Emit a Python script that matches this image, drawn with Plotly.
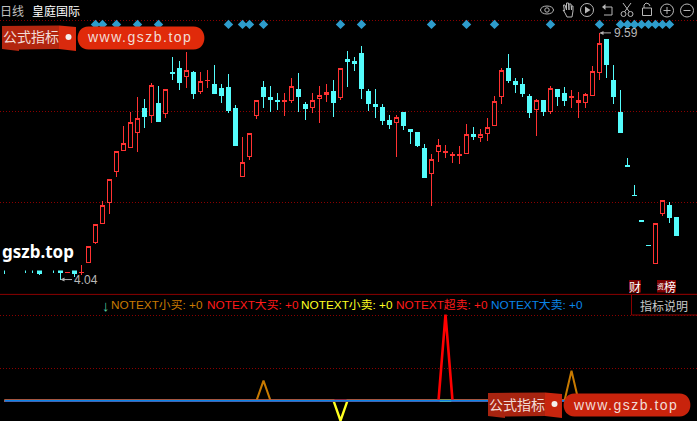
import plotly.graph_objects as go

W, H = 697, 421
index = list(range(97))
opens = [4.34,4.44,4.48,4.39,4.37,4.30,4.44,4.34,4.34,4.19,4.30,4.19,4.42,4.87,5.30,5.77,6.47,6.94,7.01,7.34,
         7.88,7.73,8.01,7.77,8.69,8.78,8.60,8.70,8.27,8.52,8.42,8.33,8.37,7.90,6.35,6.80,7.73,8.37,8.13,8.06,
         8.05,8.06,8.32,7.99,7.92,8.11,8.20,8.28,8.13,9.00,8.94,9.12,8.28,7.97,7.92,7.61,7.57,7.81,7.41,7.36,
         7.00,6.42,6.93,6.91,6.83,6.83,6.87,7.31,7.23,7.32,7.50,8.15,8.78,8.49,8.42,8.15,7.86,8.08,7.82,8.31,
         8.22,8.14,8.03,8.03,8.19,8.69,9.45,8.53,7.79,6.60,5.94,5.36,4.81,4.40,5.52,5.70,5.43]
highs = [4.37,4.48,4.53,4.44,4.41,4.34,4.48,4.39,4.39,4.21,4.34,4.37,4.79,5.28,5.80,6.30,6.93,7.50,7.81,8.14,
         8.10,8.46,8.40,8.33,9.05,8.96,9.16,8.73,8.71,8.76,8.87,8.44,8.67,7.97,7.25,7.34,8.08,8.51,8.40,8.24,
         8.23,8.58,8.69,8.04,8.24,8.40,8.44,8.53,8.80,9.18,9.05,9.30,8.33,8.33,7.99,7.74,7.74,7.81,7.43,7.36,
         7.09,6.87,7.20,7.07,6.91,7.05,7.54,7.47,7.43,7.68,8.17,8.80,9.12,8.58,8.58,8.22,8.10,8.08,8.40,8.33,
         8.37,8.31,8.26,8.24,8.85,9.59,9.45,8.87,8.31,6.78,6.17,5.36,4.81,5.31,5.82,5.79,5.43]
lows = [4.17,4.30,4.34,4.19,4.19,4.14,4.30,4.19,4.04,4.18,4.10,4.14,4.42,4.85,5.30,5.52,6.35,6.93,7.01,6.91,
        7.45,7.57,7.59,7.68,8.53,8.30,8.35,8.11,8.22,8.35,8.22,8.02,7.79,7.05,6.35,6.73,7.66,7.90,7.82,7.86,
        7.72,8.02,7.82,7.63,7.79,7.56,8.04,7.70,8.08,8.37,8.73,8.10,7.83,7.68,7.52,7.43,6.80,7.41,7.09,7.02,
        6.33,5.70,6.69,6.78,6.66,6.64,6.87,7.18,7.14,7.16,7.50,7.99,8.46,8.24,8.15,7.68,7.27,7.72,7.77,7.95,
        7.95,7.90,7.68,7.90,8.17,8.53,8.58,7.99,7.34,6.58,5.93,5.35,4.80,4.40,5.47,5.31,5.02]
closes = [4.28,4.34,4.39,4.30,4.28,4.17,4.37,4.30,4.19,4.20,4.17,4.21,4.79,5.28,5.71,6.30,6.93,7.11,7.58,7.67,
          7.70,8.41,7.59,8.32,8.68,8.47,8.75,8.22,8.50,8.53,8.22,8.18,7.84,7.05,6.68,7.33,8.07,8.15,8.09,8.04,
          8.06,8.39,8.15,7.88,8.07,8.19,8.25,8.02,8.79,8.94,8.90,8.35,8.01,7.93,7.61,7.52,7.69,7.50,7.37,7.05,
          6.33,6.75,7.05,6.92,6.85,6.85,7.31,7.25,7.31,7.47,8.04,8.75,8.51,8.42,8.22,7.81,8.07,7.83,8.34,8.15,
          8.08,8.15,8.07,8.21,8.73,9.36,8.89,8.15,7.34,6.59,5.93,5.35,4.80,5.31,5.82,5.43,5.04]

signal_x = [13,14,16,19,22,32,34,35,37,48,51,61,66,70,78,85,88,89,90,91,92,93,94,95]
signal_level = 9.78
main_grid = [9.87, 7.83, 5.78]
sub_grid = [8.54, 3.24]

small_buy_x = [0,36,37,38,80,81,82,96]
small_buy_y = [0,0,2,0,0,3,0,0]
big_buy_x = [0,96]
big_buy_y = [0,0]
small_sell_x = [0,47,48,49,96]
small_sell_y = [0,0,-2,0,0]
oversold_x = [0,62,63,64,96]
oversold_y = [0,0,8.6,0,0]
big_sell_x = [0,96]
big_sell_y = [0,0]

legend_items = [("NOTEXT小买: +0", "#c87a00", 111), ("NOTEXT大买: +0", "#ff1a1a", 206.7),
                ("NOTEXT小卖: +0", "#ffff20", 301.3), ("NOTEXT超卖: +0", "#ff1a1a", 396.3),
                ("NOTEXT大卖: +0", "#0a84e8", 491)]

RED, CYAN, GRID = "#ff3232", "#54fcfc", "#8a0000"
fig = go.Figure()
fig.add_trace(go.Candlestick(x=index, open=opens, high=highs, low=lows, close=closes, whiskerwidth=0,
    increasing=dict(line=dict(color=RED, width=1), fillcolor="#000000"),
    decreasing=dict(line=dict(color=CYAN, width=1), fillcolor=CYAN),
    xaxis="x", yaxis="y", showlegend=False))
fig.add_trace(go.Scatter(x=signal_x, y=[signal_level]*len(signal_x), mode="markers",
    marker=dict(symbol="diamond", size=7.2, color="#2e9ccc"), xaxis="x", yaxis="y", showlegend=False))
for xs, ys, col, w in [(small_buy_x, small_buy_y, "#c87a00", 2), (big_buy_x, big_buy_y, "#ff1a1a", 2),
                       (small_sell_x, small_sell_y, "#ffff20", 2.4), (oversold_x, oversold_y, "#ff0000", 2.6),
                       (big_sell_x, big_sell_y, "#0a84e8", 2)]:
    fig.add_trace(go.Scatter(x=xs, y=ys, mode="lines", line=dict(color=col, width=w),
                             xaxis="x2", yaxis="y2", showlegend=False))

def px(x): return x / W
def py(y): return 1 - y / H

shapes, ann = [], []
def path(d, fill=None, line=None, lw=1):
    shapes.append(dict(type="path", xref="paper", yref="paper", path=d, fillcolor=fill or "rgba(0,0,0,0)",
                       line=dict(color=line or "rgba(0,0,0,0)", width=lw if line else 0)))
def poly(pts, fill=None, line=None, lw=1, close=True):
    d = "M " + " L ".join(f"{px(a):.5f},{py(b):.5f}" for a, b in pts) + (" Z" if close else "")
    path(d, fill, line, lw)
def rect(x0, y0, x1, y1, fill=None, line=None, lw=1):
    shapes.append(dict(type="rect", xref="paper", yref="paper", x0=px(x0), x1=px(x1), y0=py(y0), y1=py(y1),
                       fillcolor=fill or "rgba(0,0,0,0)", line=dict(color=line or "rgba(0,0,0,0)", width=lw if line else 0)))
def circle(cx, cy, rx, ry=None, fill=None, line=None, lw=1):
    ry = ry or rx
    shapes.append(dict(type="circle", xref="paper", yref="paper", x0=px(cx-rx), x1=px(cx+rx), y0=py(cy+ry), y1=py(cy-ry),
                       fillcolor=fill or "rgba(0,0,0,0)", line=dict(color=line or "rgba(0,0,0,0)", width=lw if line else 0)))
def text(t, x, y, color, size=12, anchor="left", family="Liberation Sans, Noto Sans CJK SC", bold=False):
    ann.append(dict(text=f"<b>{t}</b>" if bold else t, x=px(x), y=py(y), xref="paper", yref="paper", showarrow=False,
                    xanchor=anchor, yanchor="middle", font=dict(color=color, size=size, family=family),
                    borderpad=0, borderwidth=0))

# pane separator and description box
poly([(0, 294.4), (697, 294.4)], line="#8a0000", lw=1, close=False)
rect(631.5, 294.4, 698, 315, fill="#000000", line="#8a0000", lw=1)
# cover for the left-hand price watermark
rect(0, 238, 80, 270.6, fill="#000000")

def watermark(x, y, dark, mid, pill):
    poly([(x, y), (x+57, y-0.5), (x+57, y+23), (x+17, y+23.5), (x+17, y+25), (x, y+23)], fill=dark)
    poly([(x+57, y-0.5), (x+74, y+1), (x+74, y+25), (x+57, y+23)], fill=mid)
    circle(x+66.5, y+11, 3, fill="#f4f0ee")
    r = 11.5
    x0, x1, y0, y1 = x+75, x+203, y+0.5, y+23.5
    d = (f"M {px(x0+r):.5f},{py(y0):.5f} L {px(x1-r):.5f},{py(y0):.5f} "
         f"C {px(x1+3):.5f},{py(y0):.5f} {px(x1+3):.5f},{py(y1):.5f} {px(x1-r):.5f},{py(y1):.5f} "
         f"L {px(x0+r):.5f},{py(y1):.5f} "
         f"C {px(x0-3):.5f},{py(y1):.5f} {px(x0-3):.5f},{py(y0):.5f} {px(x0+r):.5f},{py(y0):.5f} Z")
    path(d, fill=pill)
    text("公式指标", x+1, y+11.5, "#f2dcd6", 14)
    text("www.gszb.top", x+94, y+11.5, "#f2dcd6", 14)

watermark(2, 26, "#b3260f", "#d92a0e", "#e02a0a")
watermark(488, 393, "#a82410", "#c8250e", "#c8230c")

# toolbar icons
G = "#b8b8b8"
circle(547, 10, 6.5, 4, line=G); circle(547, 10, 2.2, line=G)
poly([(563,10),(565,13),(567,17),(572,17),(573,11),(573,6),(571.5,6),(571.5,10),(571,4),(569,4),(569,10),(568.5,3),(566.5,3),(566.5,10),(565,5),(563.5,5),(564.5,11)], line=G)
circle(587, 10, 6.5, line=G); poly([(585,6.5),(590.5,10),(585,13.5)], fill=G)
poly([(603,7),(612,7),(612,15),(604,15)], line=G, close=False); poly([(602,7),(605.5,4),(605.5,10)], fill=G)
poly([(623,3),(629.5,12)], line=G, close=False); poly([(631,3),(624.5,12)], line=G, close=False)
circle(623.5, 14, 2.5, line=G); circle(630.5, 14, 2.5, line=G)
rect(642.5, 8, 651.5, 15.5, line=G); poly([(644,8),(644,5),(646,3),(649,4),(650,6)], line=G, close=False)
circle(667, 10.5, 6.5, line=G); poly([(663.5,10.5),(670.5,10.5)], line=G, close=False); poly([(667,7),(667,14)], line=G, close=False)
circle(687, 10.5, 6.5, line=G); poly([(683.5,10.5),(690.5,10.5)], line=G, close=False)

# text
text("日线", 0, 11, "#c0c0c0", 12, family="Noto Sans CJK SC")
text("皇庭国际", 32, 11, "#ffffff", 12, family="Noto Sans CJK SC")
text("gszb.top", 2, 251, "#ffffff", 17, family="Noto Sans", bold=True)
text("↓", 102, 305, "#54c8a0", 15)
for label, col, xp in legend_items:
    text(label, xp, 305, col, 11.8)
text("指标说明", 640, 305, "#c8c8c8", 12, family="Noto Sans CJK SC")
rect(629, 280, 641, 292.5, fill="#7a0000")
rect(657, 280, 676, 292.5, fill="#7a0000")
text("财", 629, 286, "#ffffff", 12, family="Noto Sans CJK SC")
text("资", 657, 286, "#ffffff", 7, family="Noto Sans CJK SC")
text("榜", 664, 286, "#ffffff", 12, family="Noto Sans CJK SC")

# high / low price labels tied to the data
for i, price, label, shift in [(85, 9.59, "9.59", 12), (8, 4.04, "4.04", 11)]:
    ann.append(dict(x=i, y=price, xref="x", yref="y", text="", showarrow=True, ax=13, ay=0,
                    arrowcolor="#b0b0b0", arrowhead=2, arrowsize=0.8, arrowwidth=1))
    ann.append(dict(x=i, y=price, xref="x", yref="y", text=label, showarrow=False, xanchor="left", xshift=shift,
                    font=dict(color="#b8b8b8", size=12, family="Liberation Sans")))

x_range = [-4.5/7, (W-4.5)/7]
axis_common = dict(range=x_range, showgrid=False, zeroline=False, showticklabels=False, ticks="", showline=False, rangeslider=dict(visible=False))
y_common = dict(showgrid=True, gridcolor=GRID, gridwidth=1, griddash="1px,2px", zeroline=False,
                showticklabels=False, ticks="", showline=False, fixedrange=True)
fig.update_layout(width=W, height=H, margin=dict(l=0, r=0, t=0, b=0), autosize=False,
    paper_bgcolor="#000000", plot_bgcolor="#000000", showlegend=False, shapes=shapes, annotations=ann,
    xaxis=dict(domain=[0, 1], anchor="y", **axis_common),
    xaxis2=dict(domain=[0, 1], anchor="y2", **axis_common),
    yaxis=dict(domain=[1-294/H, 1], range=[3.715, 10.33], tickmode="array", tickvals=main_grid, **y_common),
    yaxis2=dict(domain=[0, 1-295/H], range=[-2.03, 10.57], tickmode="array", tickvals=sub_grid, **y_common))

post = """document.documentElement.style.background='#000';document.body.style.margin='0';document.body.style.overflow='hidden';
document.querySelectorAll('.annotation-text').forEach(function(t){if(t.textContent==='www.gszb.top'){t.style.letterSpacing='1.5px';}});
document.querySelectorAll('.boxes path').forEach(function(p){p.style.shapeRendering='crispEdges';});"""
fig.write_html("out.html", post_script=post, config={"displayModeBar": False})
